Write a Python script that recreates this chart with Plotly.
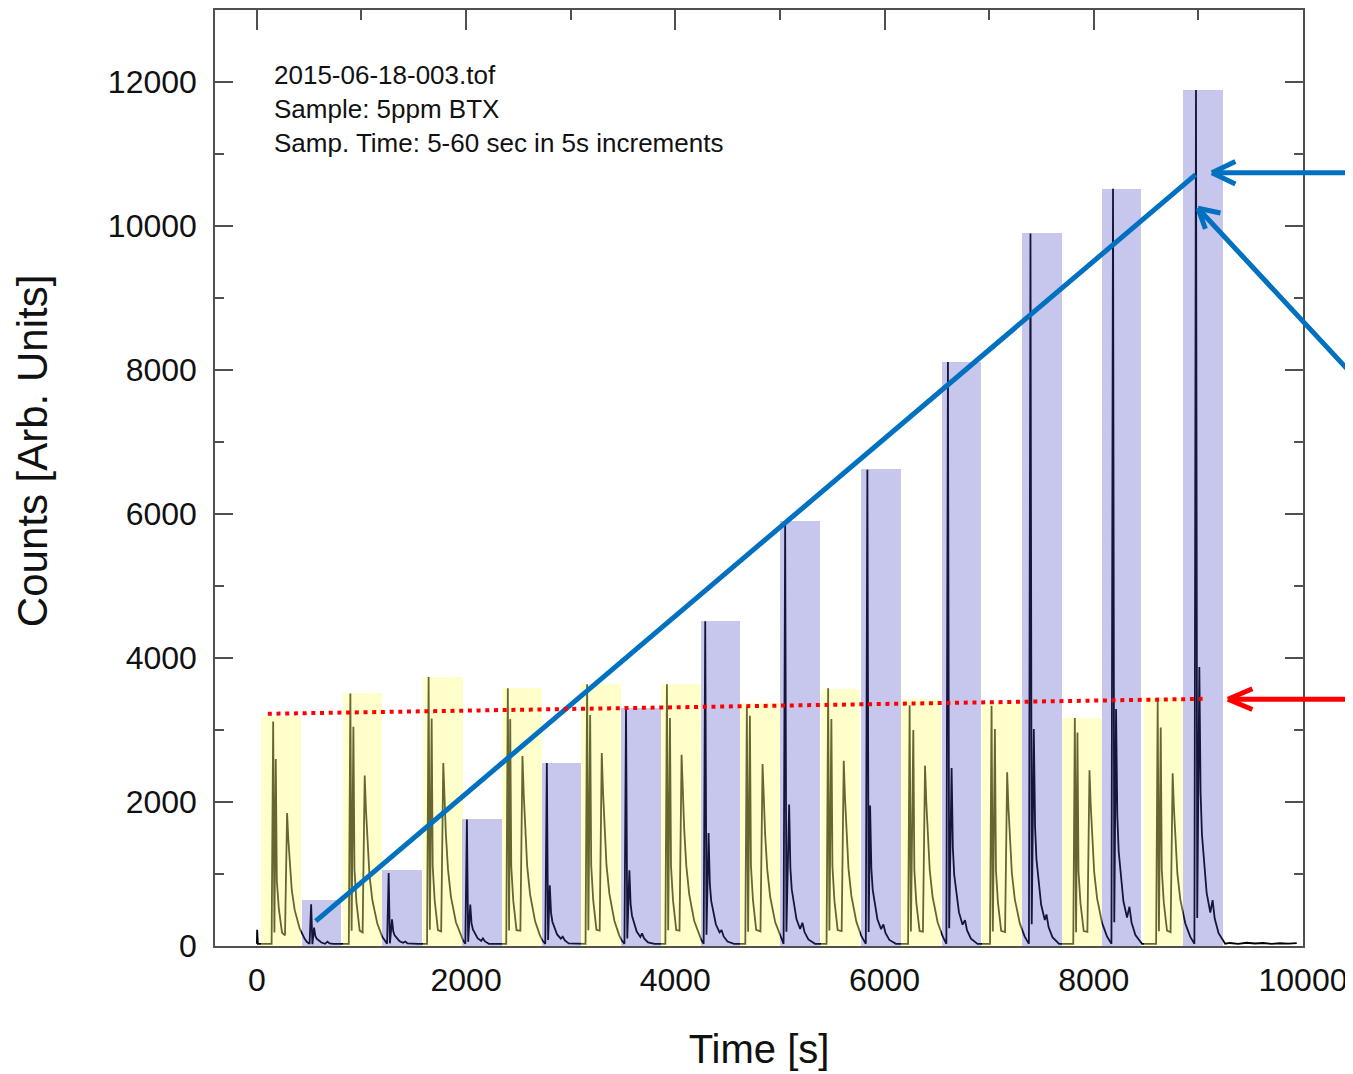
import plotly.graph_objects as go

# ---------------- data ----------------
# shaded bars (peak height per sampling window)
YELLOW_T = [230, 1012, 1778, 2534, 3291, 4054, 4811, 5578, 6350, 7122, 7885, 8668]
YELLOW_H = [3200, 3510, 3740, 3590, 3640, 3640, 3380, 3570, 3430, 3380, 3170, 3450]
BLUE_T = [617, 1386, 2152, 2913, 3672, 4433, 5193, 5964, 6737, 7506, 8267, 9043]
BLUE_H = [640, 1050, 1760, 2545, 3300, 4515, 5900, 6620, 8110, 9900, 10520, 11890]

# peaks of the time trace in the yellow windows (A, B, C)
YA_T = [156, 894, 1642, 2399, 3157, 3920, 4684, 5461, 6240, 7023, 7819, 8611]
YA_H = [3119, 3506, 3737, 3580, 3636, 3636, 3322, 3576, 3345, 3336, 3165, 3405]
YB_T = [181, 923, 1671, 2422, 3186, 3949, 4713, 5492, 6275, 7055, 7844, 8640]
YB_H = [2598, 3045, 3160, 3151, 3207, 3165, 3197, 3151, 2999, 3013, 2966, 3036]
YC_T = [289, 1031, 1782, 2539, 3297, 4060, 4834, 5610, 6387, 7172, 7959, 8754]
YC_H = [1845, 2367, 2542, 2639, 2680, 2657, 2528, 2574, 2505, 2413, 2440, 2399]
# peaks of the time trace in the blue windows (M, S, T)
BM_T = [519, 1260, 2008, 2772, 3529, 4286, 5050, 5836, 6606, 7395, 8184, 8977]
BM_H = [581, 1015, 1758, 2542, 3299, 4512, 5896, 6616, 8110, 9896, 10519, 11889]
BS_T = [547, 1292, 2040, 2800, 3561, 4318, 5088, 5862, 6641, 7427, 8213, 9009]
BS_H = [254, 369, 577, 844, 1052, 1568, 1965, 1951, 2473, 3013, 3290, 3875]
BT_T = [675, 1420, 2161, 2924, 3682, 4442, 5215, 5989, 6769, 7548, 8341, 9136]
BT_H = [60, 60, 106, 129, 175, 221, 323, 300, 360, 438, 545, 637]

# small spike at start and noisy baseline tail
BASELINE = 30
INIT_T = [0, 3, 10]
INIT_Y = [30, 225, 30]
TAIL_T = [9300, 9380, 9460, 9540, 9620, 9700, 9780, 9860, 9940]
TAIL_Y = [42, 30, 45, 35, 42, 30, 38, 33, 40]

# peak-shape profiles (offset in s, fraction of the peak)
YB_DECAY_DT = [10, 29, 60]
YB_DECAY_FR = [0.35, 0.2, 0.07]
YC_RISE_DT = [-20]
YC_RISE_FR = [0.08]
YC_DECAY_DT = [12, 25, 45, 73, 121, 168, 190]
YC_DECAY_FR = [0.8, 0.61, 0.42, 0.27, 0.13, 0.054, 0.03]
DIP_DT = 12
YA_DIP_FR = 0.06
BM_DIP_FR = 0.1   # fraction of S
BS_DECAY_DT = [12, 25, 70, 105]
BS_DECAY_FR = [0.55, 0.4, 0.19, 0.12]
BT_DECAY_DT = [20, 57, 120]
BT_DECAY_FR = [0.6, 0.28, 0.05]
PRE_DT = 15

# overlay lines
FIT_T = [563, 8974]
FIT_Y = [346, 10713]
REF_T = [105, 9069]
REF_Y = [3225, 3433]

# arrow tips (time, counts)
ARROW_BLUE_H = (9129, 10740)
ARROW_BLUE_D = (8996, 10246)
ARROW_RED = (9282, 3428)

X_TICKS = [0, 2000, 4000, 6000, 8000, 10000]
Y_TICKS = [0, 2000, 4000, 6000, 8000, 10000, 12000]

INFO_TEXT = ["2015-06-18-003.tof", "Sample: 5ppm BTX",
             "Samp. Time: 5-60 sec in 5s increments"]
X_TITLE = "Time [s]"
Y_TITLE = "Counts [Arb. Units]"

# ---------------- build trace ----------------
xs, ys = list(INIT_T), list(INIT_Y)


def add(t, v):
    if t > xs[-1]:
        xs.append(t)
        ys.append(v)


for i in range(len(YA_T)):
    add(YA_T[i] - PRE_DT, BASELINE)
    add(YA_T[i], YA_H[i])
    add(YA_T[i] + DIP_DT, YA_H[i] * YA_DIP_FR)
    add(YB_T[i], YB_H[i])
    for dt, fr in zip(YB_DECAY_DT, YB_DECAY_FR):
        add(YB_T[i] + dt, YB_H[i] * fr)
    for dt, fr in zip(YC_RISE_DT, YC_RISE_FR):
        add(YC_T[i] + dt, YC_H[i] * fr)
    add(YC_T[i], YC_H[i])
    for dt, fr in zip(YC_DECAY_DT, YC_DECAY_FR):
        add(YC_T[i] + dt, max(YC_H[i] * fr, BASELINE))
    add(BM_T[i] - PRE_DT, BASELINE)
    add(BM_T[i], BM_H[i])
    add(BM_T[i] + DIP_DT, BS_H[i] * BM_DIP_FR)
    add(BS_T[i], BS_H[i])
    for dt, fr in zip(BS_DECAY_DT, BS_DECAY_FR):
        add(BS_T[i] + dt, max(BS_H[i] * fr, BASELINE))
    add(BT_T[i], BT_H[i])
    for dt, fr in zip(BT_DECAY_DT, BT_DECAY_FR):
        add(BT_T[i] + dt, max(BT_H[i] * fr, BASELINE))
for t, v in zip(TAIL_T, TAIL_Y):
    add(t, v)

FONT = "Liberation Sans, Arial, sans-serif"
AXIS_COLOR = "#505050"
BLUE = "rgb(0,112,192)"

fig = go.Figure()
# time trace on the base subplot; the translucent bars sit on the overlay above it
fig.add_trace(go.Scatter(x=xs, y=ys, mode="lines",
                         line=dict(color="#000000", width=1.8),
                         hoverinfo="skip", showlegend=False))
fig.add_trace(go.Bar(x=YELLOW_T, y=YELLOW_H, width=378, xaxis="x2",
                     marker=dict(color="rgba(255,255,128,0.4)", line=dict(width=0)),
                     showlegend=False))
fig.add_trace(go.Bar(x=BLUE_T, y=BLUE_H, width=378, xaxis="x2",
                     marker=dict(color="rgba(68,68,195,0.3)", line=dict(width=0)),
                     showlegend=False))
fig.add_trace(go.Scatter(x=FIT_T, y=FIT_Y, mode="lines", xaxis="x2",
                         line=dict(color=BLUE, width=5), showlegend=False))
fig.add_trace(go.Scatter(x=REF_T, y=REF_Y, mode="lines", xaxis="x2",
                         line=dict(color="#ff0000", width=4, dash="4px,4.7px"),
                         showlegend=False))


# arrows: shaft + two chevron arms, each as an arrow annotation
def arrow(tip, color, shaft, arms):
    for ax, ay in [shaft] + arms:
        fig.add_annotation(x=tip[0], y=tip[1], xref="x", yref="y", text="",
                           showarrow=True, arrowhead=0, arrowwidth=5,
                           arrowcolor=color, ax=ax, ay=ay,
                           standoff=0, startstandoff=0)


arrow(ARROW_BLUE_H, BLUE, (170, 0), [(25, -12), (25, 12)])
arrow(ARROW_BLUE_D, BLUE, (185, 167), [(24, 5), (8, 22)])
arrow(ARROW_RED, "#ff0000", (150, 0), [(26, -11), (26, 11)])

fig.add_annotation(x=0.0524, y=0.949, xref="paper", yref="paper",
                   xanchor="left", yanchor="top", align="left", showarrow=False,
                   text="<br>".join(INFO_TEXT),
                   font=dict(family=FONT, size=26, color="#111111"))

# y-axis title (placed like the original, slightly above the plot centre)
fig.add_annotation(x=-0.167, y=0.529, xref="paper", yref="paper",
                   xanchor="center", yanchor="middle", textangle=-90,
                   showarrow=False, text=Y_TITLE,
                   font=dict(family=FONT, size=42, color="#111111"))

fig.update_layout(
    width=1345, height=1066, autosize=False,
    margin=dict(l=207, r=50, t=2, b=128),
    paper_bgcolor="white", plot_bgcolor="white",
    barmode="overlay", bargap=0,
    font=dict(family=FONT, color="#111111"),
    xaxis=dict(range=[-400, 10000], tickvals=X_TICKS, ticks="",
               tickformat="d",
               showline=True, linecolor=AXIS_COLOR, linewidth=1.5,
               showgrid=False, zeroline=False,
               tickfont=dict(family=FONT, size=32, color="#111111"),
               ticklabelstandoff=5,
               title=dict(text=X_TITLE, standoff=38,
                          font=dict(family=FONT, size=40, color="#111111"))),
    xaxis2=dict(overlaying="x", side="top", matches="x", tickvals=X_TICKS,
                ticks="inside", ticklen=20, tickwidth=1.5, tickcolor=AXIS_COLOR,
                minor=dict(dtick=1000, tick0=0, ticks="inside", ticklen=10,
                           tickwidth=1.5, tickcolor=AXIS_COLOR),
                showticklabels=False, showline=True, linecolor=AXIS_COLOR,
                linewidth=1.5, showgrid=False, zeroline=False),
    yaxis=dict(range=[0, 13000], tickvals=Y_TICKS, ticks="inside", ticklen=18,
               tickformat="d",
               tickwidth=1.5, tickcolor=AXIS_COLOR, mirror="ticks",
               minor=dict(dtick=1000, tick0=0, ticks="inside", ticklen=9,
                          tickwidth=1.5, tickcolor=AXIS_COLOR),
               showline=True, linecolor=AXIS_COLOR, linewidth=1.5,
               showgrid=False, zeroline=False,
               tickfont=dict(family=FONT, size=32, color="#111111"),
               ticklabelstandoff=10),
)

fig.write_html("out.html")
